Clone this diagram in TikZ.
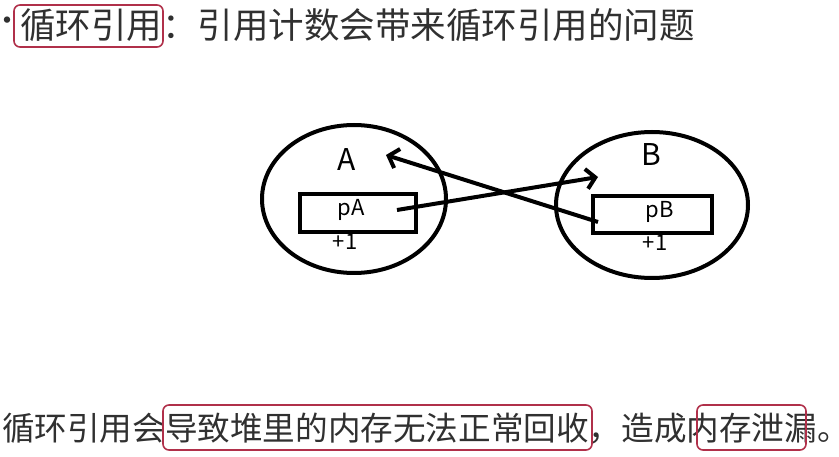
\documentclass[tikz,border=0pt]{standalone}
\usepackage{fontspec}
\setmainfont{Noto Sans CJK SC}
\usetikzlibrary{arrows.meta,shapes.geometric}
\definecolor{hl}{HTML}{B0304A}
\definecolor{tx}{HTML}{303030}
\begin{document}
\begin{tikzpicture}[x=1pt,y=-1pt,
  ln/.style={line width=4pt},
  hlbox/.style={draw=hl,line width=1.6pt,rounded corners=6pt},
  arr/.style={ln,-{Straight Barb[length=9pt,width=20pt,line width=4pt]}},
  lab/.style={font=\fontsize{30}{32}\selectfont},
  small/.style={font=\fontsize{22}{24}\selectfont}]
\useasboundingbox (0,0) rectangle (839,457);
\node[text=tx,font=\fontsize{30}{32}\selectfont,inner sep=0] (dot) at (8,24) {·};
\node[anchor=west,text=tx,font=\fontsize{35.5}{38}\selectfont,inner sep=0] (title) at (20,25) {循环引用：引用计数会带来循环引用的问题};
\draw[hlbox] (14,5) rectangle (163,47);
\node[anchor=west,text=tx,font=\fontsize{32.6}{34}\selectfont,inner sep=0] (bottom) at (2,428) {循环引用会导致堆里的内存无法正常回收，造成内存泄漏。};
\draw[hlbox] (163,405) rectangle (592,450);
\draw[hlbox] (697,405) rectangle (806,450);
\node[ln,draw,ellipse,minimum width=184,minimum height=148,inner sep=0] (A) at (354,199) {};
\node[ln,draw,ellipse,minimum width=192,minimum height=146,inner sep=0] (B) at (652,205) {};
\node[ln,draw,minimum width=116,minimum height=38,inner sep=0] (pA) at (358,213) {};
\node[ln,draw,minimum width=119,minimum height=37,inner sep=0] (pB) at (652,215) {};
\node[small] (pAt) at (351,210) {pA};
\node[small] (pBt) at (660,212) {pB};
\node[lab] (At) at (347,160) {A};
\node[lab] (Bt) at (651,155) {B};
\node[small] (p1) at (345,242) {+1};
\node[small] (p2) at (655,243) {+1};
\coordinate (s1) at (397,210);
\coordinate (e1) at (598,177);
\coordinate (s2) at (598,222);
\coordinate (e2) at (386,155);
\draw[arr] (s1) -- (e1);
\draw[arr] (s2) -- (e2);
\end{tikzpicture}
\end{document}
